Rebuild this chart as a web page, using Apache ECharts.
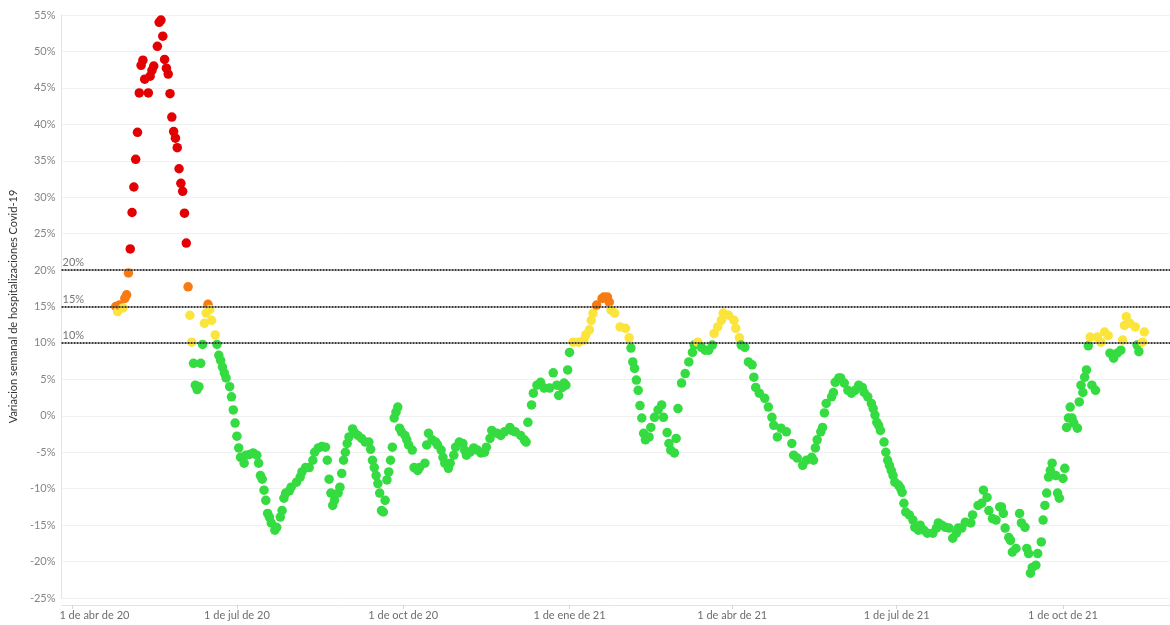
<!DOCTYPE html>
<html>
<head>
<meta charset="utf-8">
<script src="https://cdn.jsdelivr.net/npm/echarts@6/dist/echarts.min.js"></script>
<style>
  html, body { margin: 0; padding: 0; background: #fff; }
  #chart { width: 1170px; height: 625px; }
</style>
</head>
<body>
<div id="chart"></div>
<script>
// dia = dias desde el 25 de abril de 2020, valor = variacion semanal en %
var inicio = [2020, 3, 25];

var datos2020 = [
  [0,15.0],[1,14.3],[2,15.2],[4,14.8],[5,16.1],[6,16.6],[7,19.6],[8,22.9],[9,27.9],[10,31.4],
  [11,35.2],[12,38.9],[13,44.3],[14,48.1],[15,48.8],[16,46.2],[18,44.3],[19,46.6],[20,47.4],[21,48.0],
  [23,50.7],[24,54.0],[25,54.3],[26,52.1],[27,48.9],[28,47.7],[29,46.9],[30,44.2],[31,41.0],[32,39.0],
  [33,38.1],[34,36.8],[35,33.9],[36,31.9],[37,30.8],[38,27.8],[39,23.7],[40,17.7],[41,13.8],[42,10.1],
  [43,7.2],[44,4.2],[45,3.6],[46,4.0],[47,7.2],[48,9.8],[49,12.7],[50,14.1],[51,15.3],[52,14.6],
  [53,13.1],[55,11.1],[56,9.8],[57,8.3],[58,7.6],[59,6.7],[60,5.9],[61,5.2],[63,4.0],[64,2.6],
  [65,0.8],[66,-1.0],[67,-2.8],[68,-4.4],[69,-5.7],[71,-6.5],[72,-5.4],[74,-5.3],[76,-5.1],[78,-5.4],
  [79,-6.5],[80,-8.2],[81,-8.7],[82,-10.2],[83,-11.6],[84,-13.4],[85,-13.9],[86,-14.7],[88,-15.7],[89,-15.3],
  [91,-13.9],[92,-13.0],[93,-11.3],[94,-10.6],[96,-10.3],[97,-9.8],[100,-9.1],[102,-8.4],[103,-7.7],[105,-7.1],
  [107,-7.1],[109,-6.1],[110,-5.0],[112,-4.4],[114,-4.2],[116,-4.3],[117,-6.1],[118,-8.7],[119,-10.6],[120,-12.3],
  [121,-11.6],[123,-10.6],[124,-9.8],[125,-7.9],[126,-6.1],[127,-5.0],[128,-3.8],[129,-2.9],[131,-1.8],[132,-2.3],
  [134,-2.7],[136,-3.1],[138,-3.6],[140,-3.6],[141,-4.6],[142,-6.1],[143,-7.1],[144,-8.2],[145,-9.3],[146,-10.6],
  [147,-13.0],[148,-13.2],[149,-11.6],[150,-8.8],[151,-7.7],[152,-6.1],[153,-4.3],[154,-0.3],[155,0.5],[156,1.2],
  [157,-1.7],[158,-2.2],[160,-2.7],[161,-3.3],[162,-4.0],[164,-4.7],[165,-7.1],[167,-7.5],[168,-7.1],[171,-6.5],
  [172,-4.0],[173,-2.4],[175,-3.3],[177,-3.6],[178,-4.0],[180,-4.7],[181,-5.7],[182,-6.5],[184,-7.2],[185,-6.5],
  [187,-5.4],[188,-4.3],[190,-3.6],[192,-3.8],[193,-4.7],[194,-5.4],[196,-5.0],[198,-4.4],[200,-4.7],[202,-5.1],
  [204,-5.0],[205,-4.3],[207,-3.1],[208,-2.0],[211,-2.4],[213,-2.7],[215,-2.2],[218,-1.6],[219,-2.0],[221,-2.2],
  [224,-2.7],[226,-3.3],[227,-3.6],[228,-0.9],[230,1.5],[231,3.1],[233,4.2],[235,4.6],[237,3.8],[240,3.8],
  [242,5.9],[244,4.2],[245,2.8],[247,3.9],[248,4.5],[249,4.2],[250,6.3]
];

var datos2021 = [
  [251,8.7],[253,10.1],[256,10.1],[259,10.4],[260,11.1],[262,11.8],[263,13.1],[264,14.1],[266,15.2],[269,16.1],
  [270,16.3],[272,16.3],[273,15.6],[274,14.5],[276,14.1],[279,12.2],[282,12.0],[284,10.7],[285,9.3],[286,7.4],
  [287,6.5],[288,4.9],[289,3.5],[290,1.4],[291,-0.3],[292,-2.4],[293,-3.3],[295,-2.9],[296,-1.6],[298,-0.2],
  [300,0.8],[302,1.5],[303,-0.2],[305,-2.3],[306,-3.8],[307,-4.7],[309,-5.1],[310,-3.1],[311,1.0],[313,4.5],
  [315,5.8],[317,7.4],[319,8.7],[320,9.7],[322,10.1],[324,9.4],[326,9.0],[328,9.0],[330,9.7],[331,11.3],
  [333,12.2],[335,13.1],[336,14.1],[339,13.8],[342,13.1],[343,12.0],[345,10.7],[346,9.7],[348,9.4],[350,7.4],
  [352,7.0],[353,5.3],[354,3.9],[356,3.1],[359,2.4],[361,1.2],[363,-0.2],[364,-1.3],[366,-2.9],[368,-1.7],
  [371,-2.2],[374,-3.8],[375,-5.4],[377,-5.8],[380,-6.8],[382,-6.1],[385,-5.7],[386,-6.1],[387,-4.4],[388,-3.3],
  [390,-2.2],[391,-1.6],[392,0.4],[393,1.7],[396,2.6],[397,3.2],[398,4.6],[400,5.2],[401,5.2],[403,4.5],
  [405,3.5],[407,3.1],[409,3.5],[411,4.2],[413,3.9],[414,3.2],[416,2.6],[418,1.7],[419,1.0],[420,0.1],
  [421,-0.9],[422,-1.3],[423,-2.0],[425,-3.6],[426,-5.0],[427,-6.1],[428,-6.8],[429,-7.5],[430,-8.2],[431,-9.1],
  [433,-9.5],[434,-9.9],[435,-10.5],[436,-12.0],[437,-13.2],[439,-13.6],[441,-14.3],[442,-15.3],[444,-15.7],[445,-15.0],
  [447,-15.7],[449,-16.1],[452,-16.1],[454,-15.4],[455,-14.7],[457,-15.0],[459,-15.3],[461,-15.4],[463,-16.8],[465,-16.1],
  [466,-15.4],[468,-15.4],[470,-14.6],[473,-14.7],[474,-13.6],[477,-12.3],[479,-12.0],[480,-10.2],[482,-11.2],[483,-13.0],
  [485,-14.1],[487,-14.3],[489,-12.5],[490,-12.5],[491,-13.4],[492,-15.4],[494,-16.7],[495,-17.1],[496,-18.7],[498,-18.2],
  [500,-13.4],[501,-14.7],[503,-15.3],[504,-18.2],[505,-18.9],[506,-21.6],[507,-20.8],[509,-20.5],[510,-18.9],[512,-17.3],
  [513,-14.3],[514,-12.3],[515,-10.6],[516,-8.4],[517,-7.5],[518,-6.5],[520,-8.2],[521,-10.6],[522,-11.3],[524,-8.6],
  [525,-7.2],[526,-1.6],[527,-0.3],[528,1.2],[529,-0.3],[530,-1.0],[532,-1.7],[533,1.9],[534,4.2],[535,3.2],
  [536,5.3],[537,6.3],[538,9.6],[539,10.8],[540,4.2],[542,3.5],[543,10.8],[545,10.1],[547,11.5],[549,11.0],
  [550,8.6],[552,7.9],[554,8.6],[556,9.0],[557,10.4],[558,12.4],[559,13.6],[561,12.7],[564,12.2],[565,9.7],
  [566,8.8],[568,10.1],[569,11.5]
];

var umbrales = [10, 15, 20];
var colores = ['#34db41', '#fbe43b', '#f77a12', '#e30000']; // <10, 10-15, 15-20, >=20

var trimestres = [[2020, 3], [2020, 6], [2020, 9], [2021, 0], [2021, 3], [2021, 6], [2021, 9]];
var meses = ['ene', 'feb', 'mar', 'abr', 'may', 'jun', 'jul', 'ago', 'sep', 'oct', 'nov', 'dic'];

var yTicks = { min: -25, max: 55, step: 5 };

function fecha(d) {
  return new Date(inicio[0], inicio[1], inicio[2] + d).getTime();
}

function colorDe(v) {
  var k = 0;
  for (var i = 0; i < umbrales.length; i++) {
    if (v >= umbrales[i]) k = i + 1;
  }
  return colores[k];
}

var puntos = datos2020.concat(datos2021).map(function (p) {
  return [fecha(p[0]), p[1]];
});

var marcas = trimestres.map(function (t) {
  return new Date(t[0], t[1], 1).getTime();
});

var chart = echarts.init(document.getElementById('chart'), null, { renderer: 'canvas' });

var option = {
  backgroundColor: '#ffffff',
  animation: false,
  textStyle: { fontFamily: 'Lato, "Open Sans", sans-serif' },
  grid: {
    left: 58,
    right: 0,
    top: 15,
    bottom: 27
  },
  xAxis: {
    type: 'value',
    min: new Date(2020, 2, 26).getTime(),
    max: new Date(2021, 10, 29, 5).getTime(),
    offset: 7,
    axisLine: { show: true, onZero: false, lineStyle: { color: '#e3e3e3', width: 1 } },
    axisTick: {
      show: true,
      customValues: marcas,
      length: 4,
      lineStyle: { color: '#d6d6d6' }
    },
    splitLine: { show: false },
    axisLabel: {
      customValues: marcas,
      margin: 5,
      color: '#6e6e6e',
      fontSize: 11,
      hideOverlap: false,
      formatter: function (val) {
        var d = new Date(val);
        var txt = d.getDate() + ' de ' + meses[d.getMonth()] + ' de ' + String(d.getFullYear()).slice(2);
        if (val === marcas[0]) return '{a|' + txt + '}';
        return txt;
      },
      rich: {
        a: { padding: [0, 0, 0, 44], color: '#6e6e6e', fontSize: 11 }
      }
    }
  },
  yAxis: {
    type: 'value',
    min: yTicks.min,
    max: yTicks.max,
    interval: yTicks.step,
    name: 'Variacion semanal de hospitalizaciones Covid-19',
    nameLocation: 'middle',
    nameGap: 42,
    nameTextStyle: { color: '#333', fontSize: 11 },
    axisLine: { show: true, lineStyle: { color: '#e3e3e3' } },
    axisTick: { show: false },
    axisLabel: {
      color: '#858585',
      fontSize: 11,
      margin: 6,
      formatter: '{value}%'
    },
    splitLine: { show: true, lineStyle: { color: '#f0f0f0', width: 1 } }
  },
  series: [
    {
      type: 'scatter',
      z: 1,
      data: [],
      silent: true,
      markLine: {
        silent: true,
        symbol: 'none',
        lineStyle: { color: '#3a3a3a', type: [2, 1], width: 2 },
        label: {
          position: 'insideStartTop',
          distance: [1, 2],
          color: '#777',
          fontSize: 11,
          formatter: function (p) { return p.value + '%'; }
        },
        data: umbrales.map(function (u) { return { yAxis: u }; })
      }
    },
    {
      type: 'scatter',
      z: 3,
      symbolSize: 9.5,
      data: puntos,
      itemStyle: {
        opacity: 1,
        color: function (p) { return colorDe(p.value[1]); }
      }
    }
  ]
};

chart.setOption(option);
</script>
</body>
</html>
